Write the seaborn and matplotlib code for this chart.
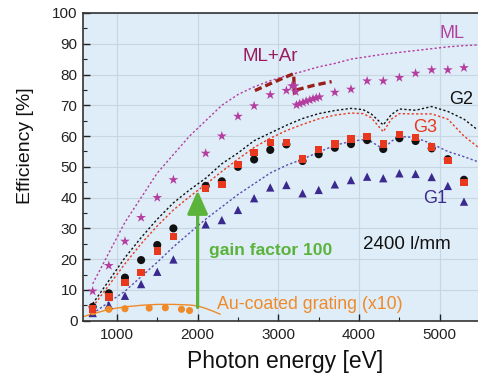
import numpy as np
import pandas as pd
import matplotlib
matplotlib.use("Agg")
import matplotlib.pyplot as plt
import seaborn as sns
from matplotlib.ticker import MultipleLocator

# ---------------- data ----------------
g_x = [700, 900, 1100, 1300, 1500, 1700, 2100, 2300, 2500, 2700, 2900, 3100,
       3300, 3500, 3700, 3900, 4100, 4300, 4500, 4700, 4900, 5100, 5300]
g2_y = [4.5, 8.9, 14.0, 19.7, 24.6, 30.0, 43.8, 45.3, 50.0, 52.4, 55.5, 57.3,
        51.9, 54.1, 56.2, 57.4, 58.7, 55.8, 59.3, 58.4, 56.0, 52.5, 45.8]
g3_y = [3.8, 7.7, 12.4, 15.7, 22.7, 27.4, 42.9, 44.2, 50.8, 54.7, 58.0, 58.0,
        52.6, 55.7, 57.4, 59.0, 59.8, 57.4, 60.6, 59.5, 56.5, 52.0, 44.9]
g1_y = [2.5, 5.1, 8.1, 11.9, 15.9, 19.9, 31.3, 32.7, 36.0, 39.8, 43.3, 44.1,
        41.4, 42.5, 44.3, 45.7, 46.8, 46.3, 47.9, 47.7, 46.7, 43.8, 38.7]

ml_x = [700, 900, 1100, 1300, 1500, 1700, 2100, 2300, 2500, 2700, 2900, 3100,
        3700, 3900, 4100, 4300, 4500, 4700, 4900, 5100, 5300]
ml_y = [9.6, 17.9, 25.8, 33.5, 40.0, 45.8, 54.4, 60.0, 66.4, 69.8, 73.4, 74.8,
        74.2, 75.2, 77.9, 77.9, 79.0, 80.4, 81.5, 81.5, 82.2]

mlar_x = [3170, 3200, 3215, 3225, 3265, 3305, 3345, 3390, 3430, 3470, 3510]
mlar_y = [76.3, 76.3, 74.4, 70.1, 70.5, 70.9, 71.3, 71.7, 72.1, 72.4, 72.7]

# ML+Ar dashed guide (two pieces)
mlar_a_x = [2710, 2950, 3190, 3200]
mlar_a_y = [74.8, 77.6, 80.3, 73.5]
mlar_b_x = [3225, 3440, 3660]
mlar_b_y = [75.0, 76.5, 77.7]

# dotted theory curves
curve_x = [700, 900, 1100, 1300, 1500, 1700, 1900, 2100, 2300, 2500, 2700,
           2900, 3100, 3300, 3500, 3700, 3900, 4050, 4150, 4300, 4400, 4500,
           4700, 4900, 5100, 5300, 5470]
ml_curve = [12.0, 22.0, 32.0, 40.0, 48.0, 54.0, 60.0, 65.0, 70.0, 73.5, 76.0,
            78.0, 79.6, 81.0, 82.5, 83.6, 85.0, 85.6, 86.0, 86.6, 86.9, 87.2,
            87.8, 88.4, 89.0, 89.4, 89.6]
g2_curve = [5.5, 13.0, 20.5, 27.0, 33.0, 38.3, 42.5, 46.3, 51.0, 54.5, 58.5,
            61.0, 63.5, 65.7, 67.3, 68.3, 69.0, 68.6, 67.2, 63.6, 67.0, 68.8,
            68.4, 69.6, 68.0, 65.5, 62.0]
g3_curve = [4.5, 11.5, 18.5, 25.0, 30.8, 36.0, 40.3, 44.3, 48.5, 52.5, 56.3,
            59.3, 61.8, 63.8, 65.6, 66.8, 67.5, 67.3, 66.0, 61.4, 65.5, 67.3,
            67.2, 67.2, 65.5, 60.0, 56.5]
g1_curve = [2.3, 6.0, 9.6, 14.3, 19.0, 24.0, 28.5, 33.0, 37.0, 41.0, 44.5,
            48.0, 50.5, 52.5, 54.8, 57.0, 58.3, 58.8, 58.2, 55.8, 58.3, 59.9,
            59.5, 57.5, 55.0, 53.3, 51.7]

# Au-coated grating (x10)
au_x = [700, 900, 1100, 1400, 1600, 1800, 1900]
au_y = [2.9, 3.7, 3.9, 4.1, 4.2, 3.7, 3.3]
au_line_x = [580, 700, 900, 1100, 1300, 1500, 1700, 1900, 2000, 2100, 2200, 2280]
au_line_y = [1.3, 2.2, 3.7, 4.5, 5.0, 5.3, 5.3, 5.1, 4.8, 4.0, 3.0, 2.1]

x_ticks = [1000, 2000, 3000, 4000, 5000]
y_ticks = [0, 10, 20, 30, 40, 50, 60, 70, 80, 90, 100]

# ---------------- style ----------------
sns.set_theme(style="ticks")
plt.rcParams["font.family"] = ["Liberation Sans", "DejaVu Sans"]

C_BLACK = "#111111"
C_RED = "#e8381e"
C_PURPLE = "#3b2a8e"
C_PURPLE_L = "#5a4cb0"
C_MAG = "#b43ea0"
C_MLAR_T = "#9a1a5c"
C_MLAR_L = "#9a1f1a"
C_ORANGE = "#f08a28"
C_GREEN = "#5bb33b"

fig = plt.figure(figsize=(4.78, 3.79), dpi=100)
ax = fig.add_axes([83 / 478, (379 - 320.7) / 379, 395.5 / 478, 307.7 / 379])
ax.set_facecolor("#deedf8")

# grid
ax.set_xticks(x_ticks)
ax.set_yticks(y_ticks)
ax.grid(True, which="major", color="#c8d6e2", lw=0.8)
ax.set_axisbelow(True)

dot = (0, (1.6, 1.6))
sns.lineplot(x=curve_x, y=ml_curve, ax=ax, color=C_MAG, lw=1.0, linestyle=dot)
sns.lineplot(x=curve_x, y=g2_curve, ax=ax, color=C_BLACK, lw=1.0, linestyle=dot)
sns.lineplot(x=curve_x, y=g3_curve, ax=ax, color=C_RED, lw=1.0, linestyle=dot)
sns.lineplot(x=curve_x, y=g1_curve, ax=ax, color=C_PURPLE_L, lw=1.0, linestyle=dot)

sns.lineplot(x=au_line_x, y=au_line_y, ax=ax, color=C_ORANGE, lw=1.0,
             sort=False, estimator=None)

dash = (0, (2.2, 1.2))
sns.lineplot(x=mlar_a_x, y=mlar_a_y, ax=ax, color=C_MLAR_L, lw=2.4,
             linestyle=dash, sort=False, estimator=None)
sns.lineplot(x=mlar_b_x, y=mlar_b_y, ax=ax, color=C_MLAR_L, lw=2.4,
             linestyle=dash, sort=False, estimator=None)

# markers
sns.scatterplot(x=ml_x, y=ml_y, ax=ax, marker="*", s=55, color=C_MAG,
                edgecolor="none", zorder=3)
sns.scatterplot(x=mlar_x, y=mlar_y, ax=ax, marker="*", s=55, color=C_MAG,
                edgecolor="none", zorder=3)
sns.scatterplot(x=g_x, y=g2_y, ax=ax, marker="o", s=34, color=C_BLACK,
                edgecolor="none", zorder=3)
sns.scatterplot(x=g_x, y=g3_y, ax=ax, marker="s", s=28, color=C_RED,
                edgecolor="none", zorder=4)
sns.scatterplot(x=g_x, y=g1_y, ax=ax, marker="^", s=36, color=C_PURPLE,
                edgecolor="none", zorder=3)
sns.scatterplot(x=au_x, y=au_y, ax=ax, marker="o", s=26, color=C_ORANGE,
                edgecolor="none", zorder=3)

# gain arrow
ax.annotate("", xy=(2000, 42.3), xytext=(2000, 4.3),
            arrowprops=dict(arrowstyle="-|>,head_length=0.95,head_width=0.42",
                            mutation_scale=15, lw=2.3, color=C_GREEN,
                            shrinkA=0, shrinkB=0), zorder=5)

# texts
ax.text(2140, 22.7, "gain factor 100", color=C_GREEN, fontsize=12.6,
        fontweight="bold", va="center", ha="left")
ax.text(4052, 24.8, "2400 l/mm", color="#111111", fontsize=13.5,
        va="center", ha="left")
ax.text(2235, 5.4, "Au-coated grating (x10)", color=C_ORANGE, fontsize=12.8,
        va="center", ha="left")
ax.text(5118, 72.0, "G2", color="#111111", fontsize=13, va="center", ha="left")
ax.text(4672, 62.9, "G3", color=C_RED, fontsize=13, va="center", ha="left")
ax.text(4788, 39.8, "G1", color=C_PURPLE, fontsize=13, va="center", ha="left")
ax.text(5002, 93.4, "ML", color=C_MAG, fontsize=13, va="center", ha="left")
ax.text(2558, 85.8, "ML+Ar", color=C_MLAR_T, fontsize=13.5, va="center",
        ha="left")

# axes
ax.set_xlim(580, 5480)
ax.set_ylim(0, 100)
ax.xaxis.set_minor_locator(MultipleLocator(500))
ax.yaxis.set_minor_locator(MultipleLocator(5))
ax.tick_params(which="both", direction="in", top=False, right=False,
               colors="#222222", labelsize=11)
ax.tick_params(which="major", length=5, width=1.0, pad=5)
ax.tick_params(which="minor", length=3, width=0.8)
ax.tick_params(axis="y", pad=4)
for side in ["left", "bottom", "top"]:
    ax.spines[side].set_color("#333333")
    ax.spines[side].set_linewidth(1.2)
ax.spines["right"].set_visible(False)

ax.set_xlabel("Photon energy [eV]", fontsize=16.5, color="#111111")
ax.set_ylabel("Efficiency [%]", fontsize=14, color="#111111")
ax.yaxis.set_label_coords(-0.125, 0.57)
ax.xaxis.set_label_coords(0.51, -0.095)

fig.savefig("out.png", dpi=100)
